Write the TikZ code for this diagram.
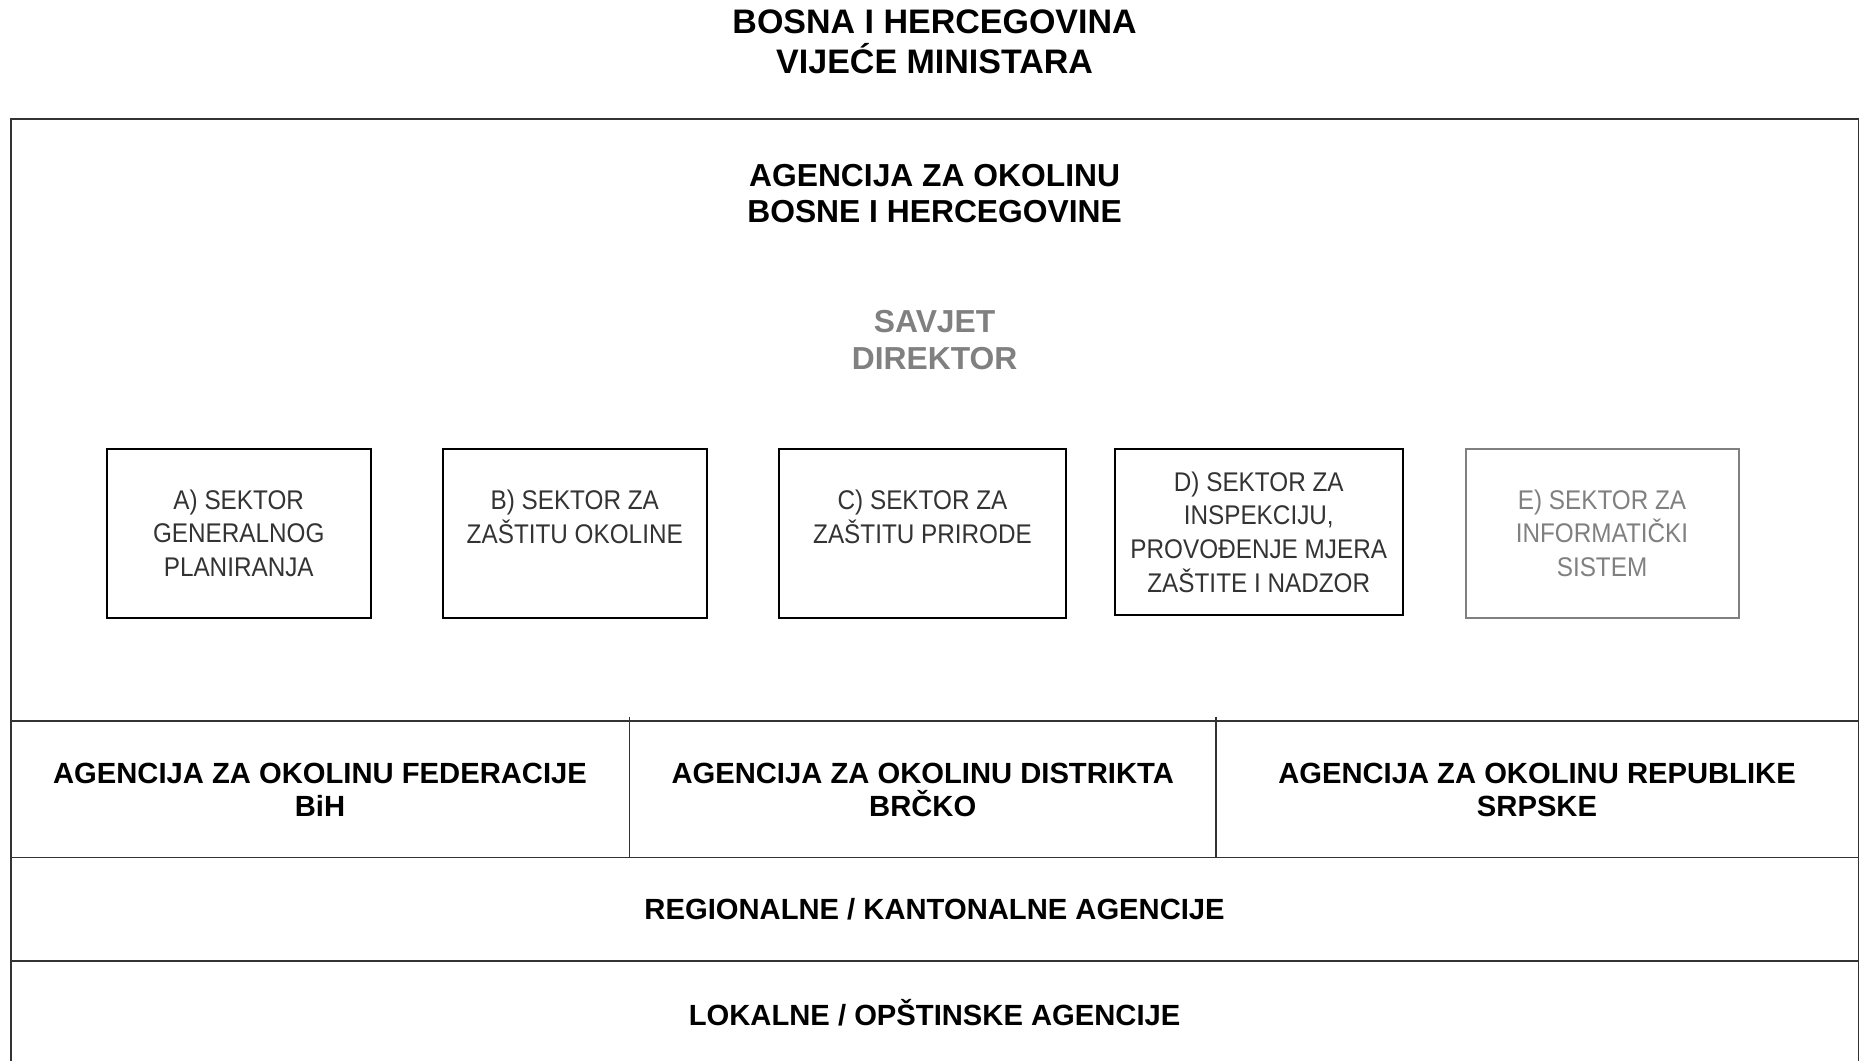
\documentclass[tikz,border=0pt]{standalone}
\usepackage{fontspec}
\setmainfont{Liberation Sans}
\newfontfamily\narrowsans{Liberation Sans}[FakeStretch=0.9]
\definecolor{framegray}{HTML}{333333}
\definecolor{boxtext}{HTML}{333333}
\definecolor{lightgray}{HTML}{808080}
\begin{document}
\begin{tikzpicture}[x=1pt,y=-1pt,
  title/.style={font=\fontsize{34}{40}\selectfont\bfseries, align=center, inner sep=0pt},
  head/.style={font=\fontsize{31.8}{35.7}\selectfont\bfseries, align=center, inner sep=0pt},
  savjet/.style={font=\fontsize{31.8}{36.8}\selectfont\bfseries, align=center, inner sep=0pt, text=lightgray},
  sektor/.style={draw=black, line width=2pt, font=\narrowsans\fontsize{27}{33.7}\selectfont, text=boxtext,
    align=center, inner sep=0pt, outer sep=0pt, minimum height=168.5pt},
  sektorgray/.style={sektor, draw=lightgray, text=lightgray},
  level/.style={font=\fontsize{29.2}{33}\selectfont\bfseries, align=center, inner sep=0pt},
  frameline/.style={draw=framegray, line width=1.8pt}
]
\useasboundingbox (0,0) rectangle (1862,1060);

% title
\node[title] (title) at (934.6,41.5) {BOSNA I HERCEGOVINA\\VIJEĆE MINISTARA};

% frame
\coordinate (tl) at (10.7,118.7);
\coordinate (tr) at (1858.5,118.7);
\coordinate (bl) at (10.7,1062);
\coordinate (br) at (1858.5,1062);
\draw[frameline] (bl) -- (tl) -- (tr) -- (br);
\coordinate (l1) at (10.7,720.8);  \coordinate (r1) at (1858.5,720.8);
\coordinate (l2) at (10.7,857.4);  \coordinate (r2) at (1858.5,857.4);
\coordinate (l3) at (10.7,960.7);  \coordinate (r3) at (1858.5,960.7);
\draw[frameline] (l1) -- (r1);
\draw[frameline] (l2) -- (r2);
\draw[frameline] (l3) -- (r3);
\coordinate (d1t) at (629.4,716.5); \coordinate (d1b) at (629.4,857.4);
\coordinate (d2t) at (1216,716.5);  \coordinate (d2b) at (1216,857.4);
\draw[frameline] (d1t) -- (d1b);
\draw[frameline] (d2t) -- (d2b);

% agency
\node[head] (agency) at (934.6,193.5) {AGENCIJA ZA OKOLINU\\BOSNE I HERCEGOVINE};
\node[savjet] (savjet) at (934.6,340.2) {SAVJET\\DIREKTOR};

% sectors
\node[sektor, minimum width=263.5pt] (A) at (238.75,533.25) {A) SEKTOR\\GENERALNOG\\PLANIRANJA};
\node[sektor, minimum width=263.5pt] (B) at (574.75,533.25) {B) SEKTOR ZA\\ZAŠTITU OKOLINE\\\mbox{}};
\node[sektor, minimum width=287pt] (C) at (922.5,533.25) {C) SEKTOR ZA\\ZAŠTITU PRIRODE\\\mbox{}};
\node[sektor, minimum width=287.5pt, minimum height=166pt] (D) at (1258.75,532) {D) SEKTOR ZA\\INSPEKCIJU,\\PROVOĐENJE MJERA\\ZAŠTITE I NADZOR};
\node[sektorgray, minimum width=273pt] (E) at (1602,533.25) {E) SEKTOR ZA\\INFORMATIČKI\\SISTEM};

% levels
\node[level] (fbih) at (320,789.5) {AGENCIJA ZA OKOLINU FEDERACIJE\\BiH};
\node[level] (brcko) at (922.7,789.5) {AGENCIJA ZA OKOLINU DISTRIKTA\\BRČKO};
\node[level] (rs) at (1537,789.5) {AGENCIJA ZA OKOLINU REPUBLIKE\\SRPSKE};
\node[level] (reg) at (934.6,909.6) {REGIONALNE / KANTONALNE AGENCIJE};
\node[level] (lok) at (934.6,1013) {LOKALNE / OPŠTINSKE AGENCIJE};
\end{tikzpicture}
\end{document}
